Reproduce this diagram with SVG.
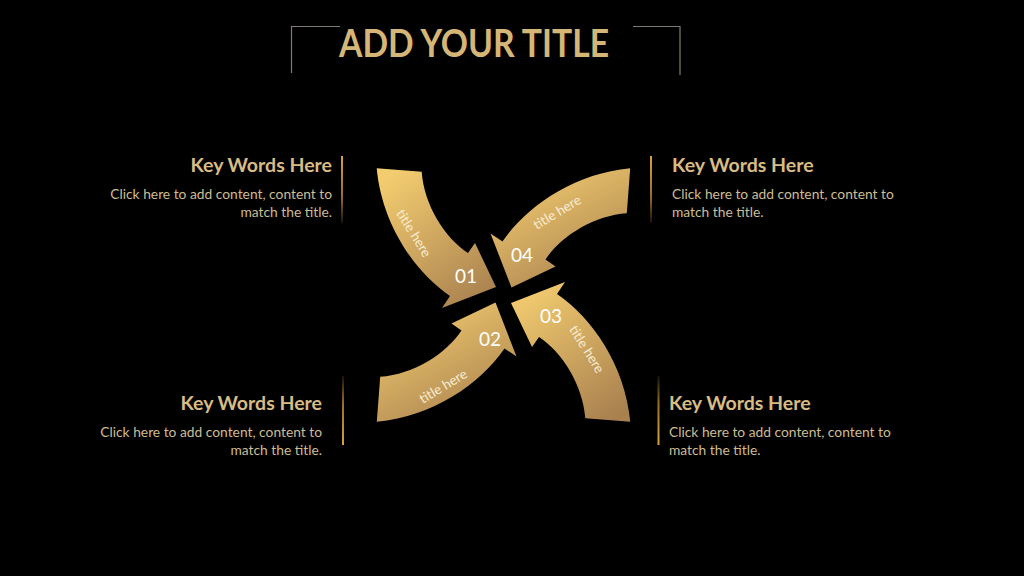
<svg xmlns="http://www.w3.org/2000/svg" width="1024" height="576" viewBox="0 0 1024 576">
  <defs>
    <linearGradient id="gold" x1="0.2" y1="0" x2="0.8" y2="1">
      <stop offset="0" stop-color="#f3cc70"/>
      <stop offset="1" stop-color="#a9814f"/>
    </linearGradient>
    <linearGradient id="barDown" x1="0" y1="0" x2="0" y2="1">
      <stop offset="0" stop-color="#d9a23a"/>
      <stop offset="0.6" stop-color="#9a6f2a"/>
      <stop offset="1" stop-color="#1a1208"/>
    </linearGradient>
    <linearGradient id="barUp" x1="0" y1="1" x2="0" y2="0">
      <stop offset="0" stop-color="#d9a23a"/>
      <stop offset="0.6" stop-color="#9a6f2a"/>
      <stop offset="1" stop-color="#1a1208"/>
    </linearGradient>
    <style>
      .title { font-family: Lato, "Liberation Sans", sans-serif; font-weight: 700; font-size: 38px; fill: #d6b677; }
      .frame { fill: none; stroke: #807b70; stroke-width: 1.2; }
      .head { font-family: Lato, "Liberation Sans", sans-serif; font-weight: 700; font-size: 19.5px; fill: #d8bc84; }
      .body { font-family: Lato, "Liberation Sans", sans-serif; font-size: 13.8px; fill: #cdbd93; }
      .arrow { fill: url(#gold); }
      .num { font-family: Lato, "Liberation Sans", sans-serif; font-size: 19px; fill: #ffffff; text-anchor: middle; }
      .lbl { font-family: Lato, "Liberation Sans", sans-serif; font-size: 13.5px; fill: #f7ecd2; text-anchor: middle; }
      .end { text-anchor: end; }
    </style>
  </defs>
  <rect x="0" y="0" width="1024" height="576" fill="#000000"/>

  <g id="title">
    <path class="frame" d="M340 26.5 H291.5 V73"/>
    <path class="frame" d="M633 26.5 H680 V75"/>
    <text class="title" x="339" y="57" textLength="270" lengthAdjust="spacingAndGlyphs">ADD YOUR TITLE</text>
  </g>

  <g id="arrow-01">
    <path class="arrow" d="M376.7 168.3 L421.7 171.7 C424 205 445 238 468 253 L475 243 L496 287 L442 308 L450 296 C415 272 382 225 376.7 168.3 Z"/>
    <text class="lbl" transform="translate(414 233) rotate(58)" dy="5">title here</text>
    <text class="num" x="466" y="283">01</text>
  </g>

  <g id="arrow-04">
    <path class="arrow" d="M630.2 168.2 L626.8 213.2 C593.5 215.5 560.5 236.5 545.5 259.5 L555.5 266.5 L511.5 287.5 L490.5 233.5 L502.5 241.5 C526.5 206.5 573.5 173.5 630.2 168.2 Z"/>
    <text class="lbl" transform="translate(557 212) rotate(-31)" dy="5">title here</text>
    <text class="num" x="522" y="262">04</text>
  </g>

  <g id="arrow-03">
    <path class="arrow" d="M630.3 421.7 L585.3 418.3 C583 385 562 352 539 337 L532 347 L511 303 L565 282 L557 294 C592 318 625 365 630.3 421.7 Z"/>
    <text class="lbl" transform="translate(587 349) rotate(58)" dy="5">title here</text>
    <text class="num" x="551" y="323">03</text>
  </g>

  <g id="arrow-02">
    <path class="arrow" d="M376.8 421.8 L380.2 376.8 C413.5 374.5 446.5 353.5 461.5 330.5 L451.5 323.5 L495.5 302.5 L516.5 356.5 L504.5 348.5 C480.5 383.5 433.5 416.5 376.8 421.8 Z"/>
    <text class="lbl" transform="translate(443 386) rotate(-31)" dy="5">title here</text>
    <text class="num" x="490" y="346">02</text>
  </g>

  <g id="block-top-left">
    <rect x="341" y="156" width="2" height="67" fill="url(#barDown)"/>
    <text class="head end" x="332" y="171.5">Key Words Here</text>
    <text class="body end" x="332" y="198.5">Click here to add content, content to</text>
    <text class="body end" x="332" y="216.5">match the title.</text>
  </g>

  <g id="block-top-right">
    <rect x="650" y="156" width="2" height="67" fill="url(#barDown)"/>
    <text class="head" x="672" y="171.5">Key Words Here</text>
    <text class="body" x="672" y="198.5">Click here to add content, content to</text>
    <text class="body" x="672" y="216.5">match the title.</text>
  </g>

  <g id="block-bottom-left">
    <rect x="342" y="376" width="2" height="69" fill="url(#barUp)"/>
    <text class="head end" x="322" y="410">Key Words Here</text>
    <text class="body end" x="322" y="437">Click here to add content, content to</text>
    <text class="body end" x="322" y="455">match the title.</text>
  </g>

  <g id="block-bottom-right">
    <rect x="657.5" y="376" width="2" height="69" fill="url(#barUp)"/>
    <text class="head" x="669" y="410">Key Words Here</text>
    <text class="body" x="669" y="437">Click here to add content, content to</text>
    <text class="body" x="669" y="455">match the title.</text>
  </g>
</svg>
